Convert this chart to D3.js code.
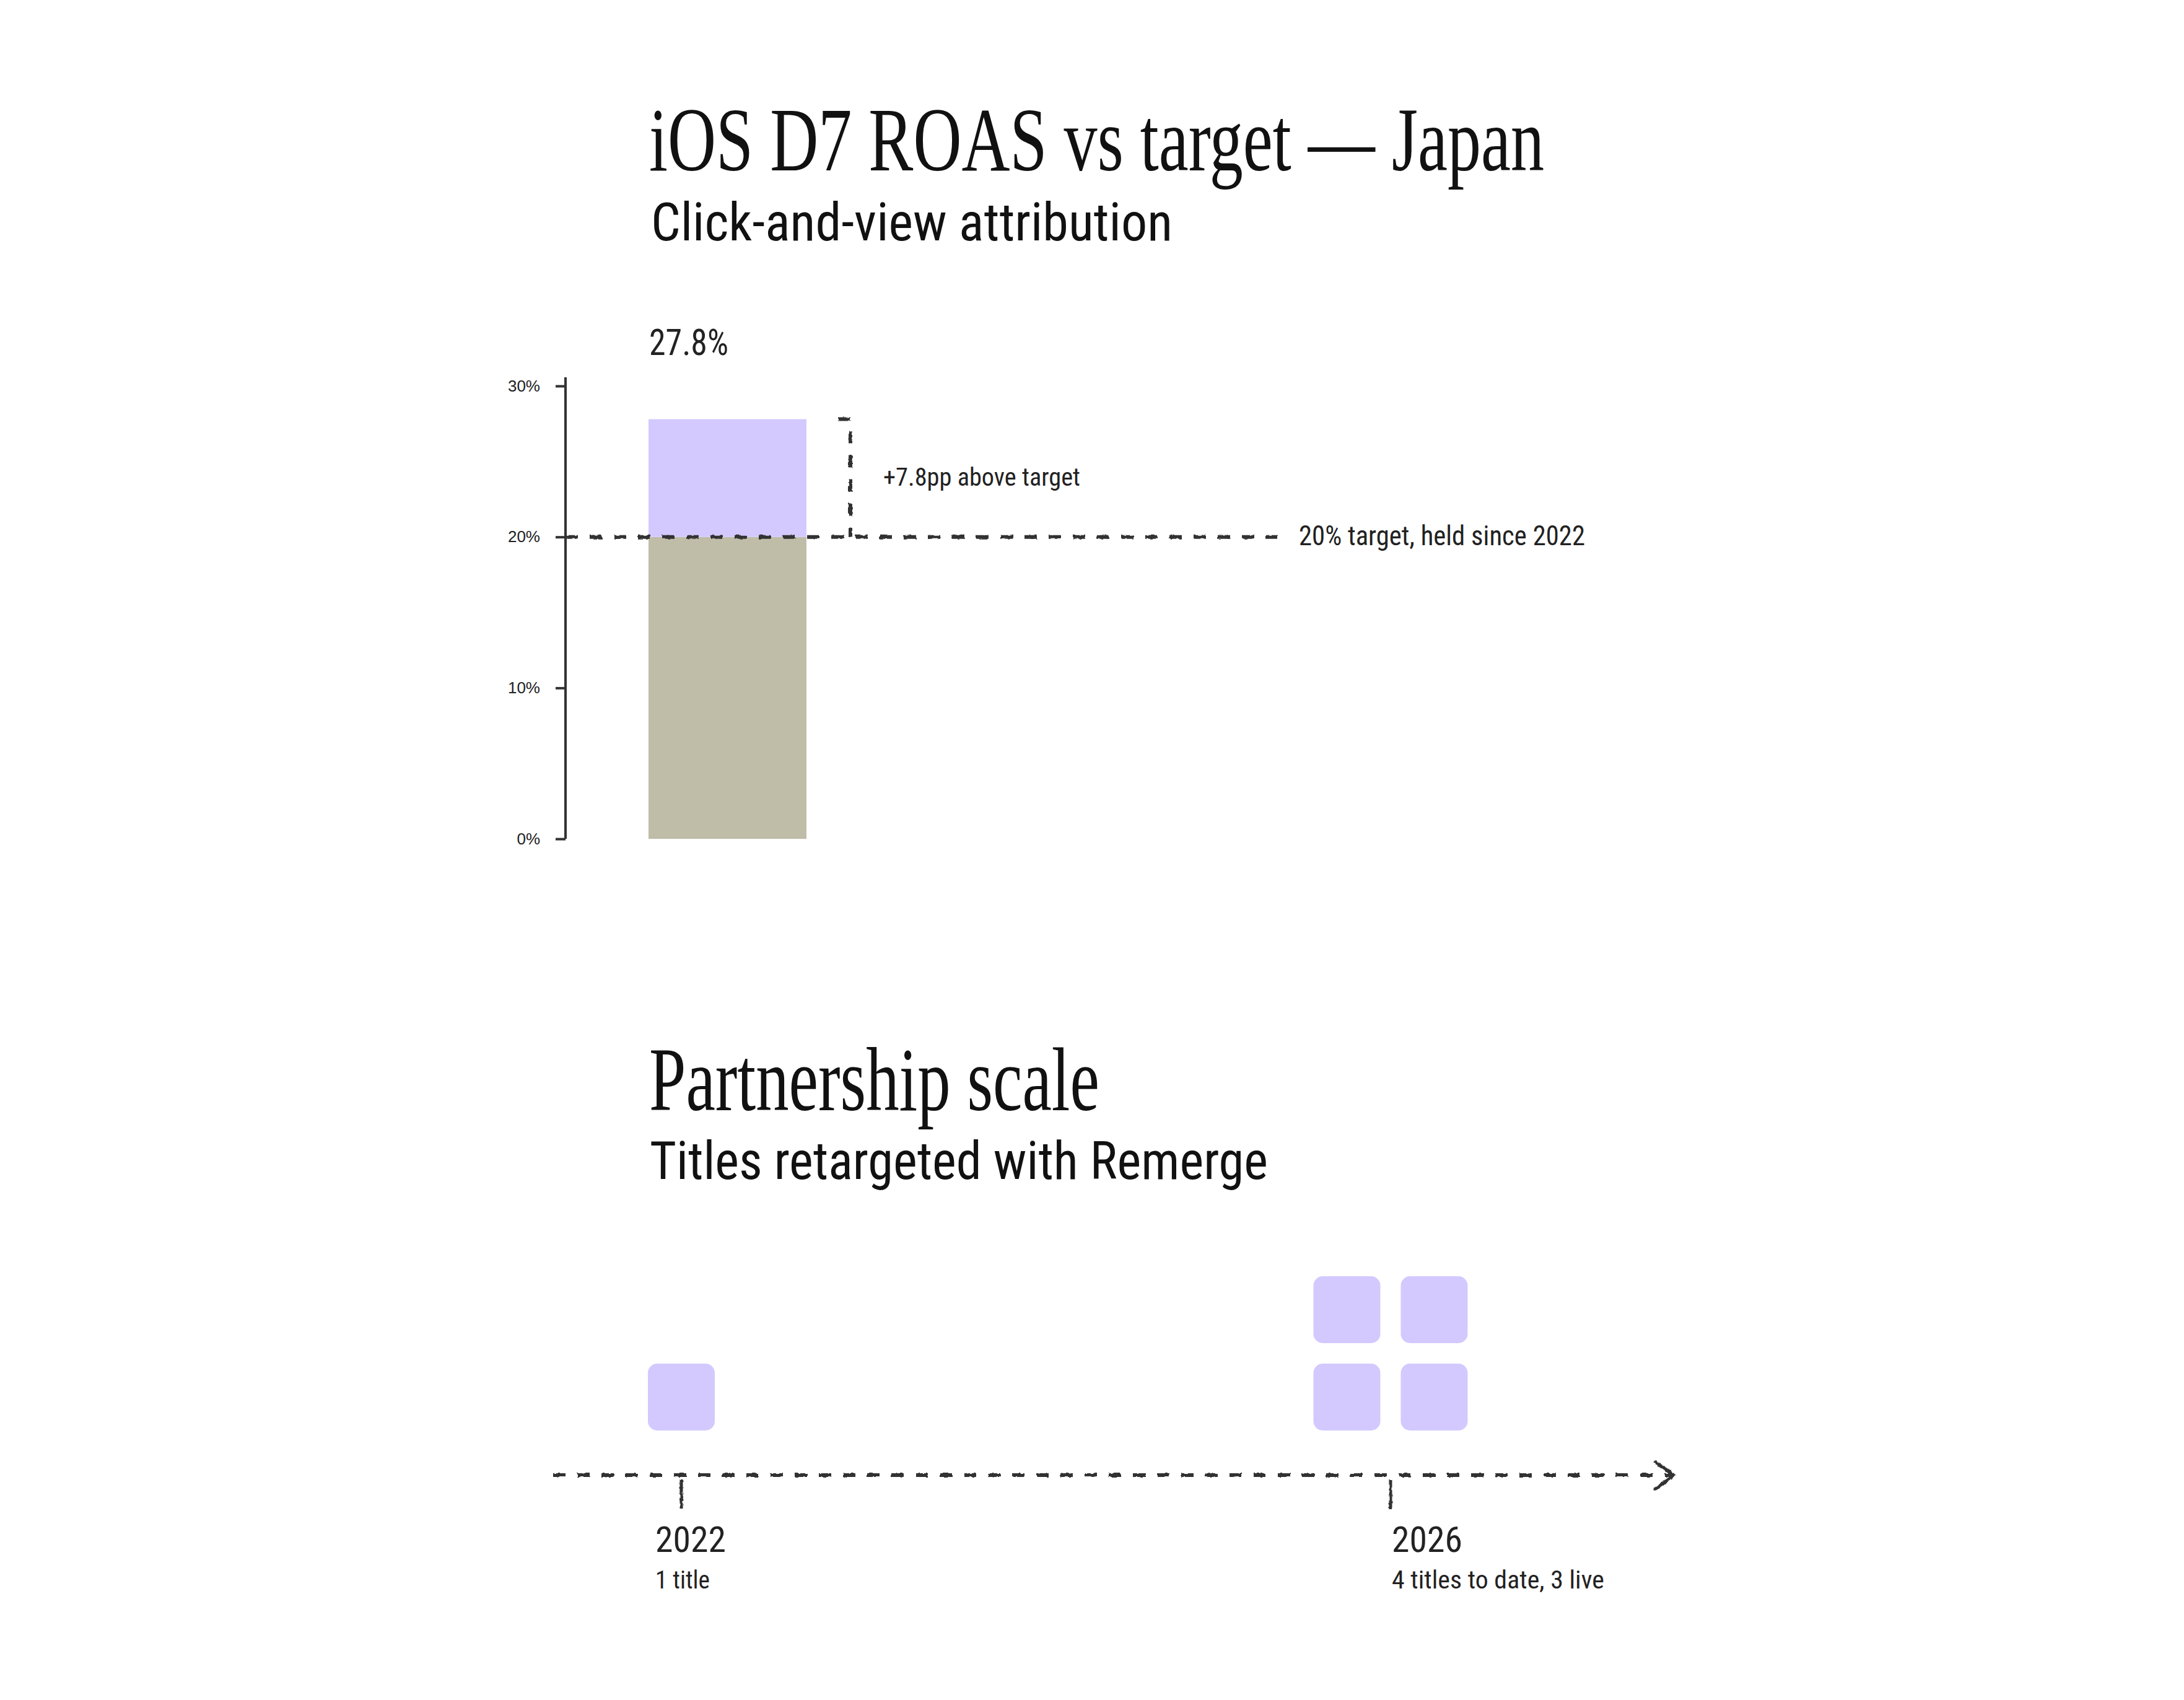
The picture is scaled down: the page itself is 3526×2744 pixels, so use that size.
<!DOCTYPE html>
<html>
<head>
<meta charset="utf-8">
<script src="https://cdn.jsdelivr.net/npm/d3@7"></script>
<style>
  html, body { margin: 0; padding: 0; background: #fff; }
  svg { display: block; }
  .serif { font-family: "Liberation Serif", "DejaVu Serif Condensed", serif; }
  .narrow { font-family: "Liberation Sans Narrow", "Roboto Condensed", "DejaVu Sans Condensed", "Liberation Sans", sans-serif; }
  .tick text { font-family: "Liberation Sans", Arial, sans-serif; }
</style>
</head>
<body>
<div id="chart"></div>
<script>
// 크기
const width = 3526;
const height = 2744;
const left = 1048;

// 데이터 - ROAS
const categories = ['Japan'];
const roasValues = [27.8];
const targetValues = [20];
const yTicks = [0, 10, 20, 30];

// 데이터 - 타임라인
const years = [2022, 2026];
const titleCounts = [1, 4];
const yearNotes = ['1 title', '4 titles to date, 3 live'];

const ink = '#333';
const lavender = '#d3c9fe';
const olive = '#bfbca8';

const svg = d3.select('#chart')
    .append('svg')
    .attr('width', width)
    .attr('height', height);

// 손그림 느낌 필터 (선의 bbox가 0이 될 수 있어 userSpaceOnUse 사용)
const defs = svg.append('defs');
const rough = defs.append('filter')
    .attr('id', 'rough')
    .attr('filterUnits', 'userSpaceOnUse')
    .attr('x', 0).attr('y', 0)
    .attr('width', width).attr('height', height);
rough.append('feTurbulence')
    .attr('type', 'fractalNoise')
    .attr('baseFrequency', 0.15)
    .attr('numOctaves', 2)
    .attr('seed', 3)
    .attr('result', 'noise');
rough.append('feDisplacementMap')
    .attr('in', 'SourceGraphic')
    .attr('in2', 'noise')
    .attr('scale', 4)
    .attr('xChannelSelector', 'R')
    .attr('yChannelSelector', 'G');

// 텍스트 헬퍼
function label(g, txt, x, y, size, cls, len, fill) {
    const t = g.append('text')
        .attr('class', cls)
        .attr('x', x)
        .attr('y', y)
        .attr('font-size', size)
        .attr('fill', fill || '#111')
        .text(txt);
    if (len) t.attr('textLength', len).attr('lengthAdjust', 'spacingAndGlyphs');
    return t;
}

// ---------- 상단: ROAS 막대 ----------
label(svg, 'iOS D7 ROAS vs target \u2014 Japan', left, 275, 146, 'serif', 1445);
label(svg, 'Click-and-view attribution', 1051, 388, 86, 'narrow', 842);

const y = d3.scaleLinear().domain([0, 30]).range([1354, 623]);
const xBar = d3.scaleBand().domain(categories).range([1047, 1302]);
const axisX = 913;

const axis = svg.append('g')
    .attr('transform', `translate(${axisX},0)`)
    .call(d3.axisLeft(y)
        .tickValues(yTicks)
        .tickFormat(d => d + '%')
        .tickSize(16)
        .tickSizeOuter(0)
        .tickPadding(25));
axis.select('.domain')
    .attr('d', `M0,${y(0)}V${y(30) - 14}`)
    .attr('stroke', ink)
    .attr('stroke-width', 4);
axis.selectAll('.tick line').attr('stroke', ink).attr('stroke-width', 4);
axis.selectAll('.tick text')
    .attr('font-size', 26)
    .attr('fill', '#222');

const barData = categories.map((c, i) => ({ cat: c, value: roasValues[i], target: targetValues[i] }));

// 목표까지 부분
svg.selectAll('.bar-base')
    .data(barData)
    .enter()
    .append('rect')
    .attr('class', 'bar-base')
    .attr('x', d => xBar(d.cat))
    .attr('width', xBar.bandwidth())
    .attr('y', d => y(Math.min(d.value, d.target)))
    .attr('height', d => y(0) - y(Math.min(d.value, d.target)))
    .attr('fill', olive);

// 목표 초과 부분
svg.selectAll('.bar-excess')
    .data(barData)
    .enter()
    .append('rect')
    .attr('class', 'bar-excess')
    .attr('x', d => xBar(d.cat))
    .attr('width', xBar.bandwidth())
    .attr('y', d => y(d.value))
    .attr('height', d => y(d.target) - y(d.value))
    .attr('fill', lavender);

// 값 라벨
barData.forEach(d => {
    label(svg, d.value.toFixed(1) + '%', xBar(d.cat) + 1, y(d.value) - 104, 60, 'narrow', 128, '#222');
});

// 목표선
barData.forEach(d => {
    svg.append('path')
        .attr('d', `M${axisX},${y(d.target)}H2062`)
        .attr('fill', 'none')
        .attr('stroke', ink)
        .attr('stroke-width', 6)
        .attr('stroke-dasharray', '20 19')
        .attr('filter', 'url(#rough)');
    label(svg, `${d.target}% target, held since 2022`, 2097, y(d.target) + 13, 45, 'narrow', 462, '#222');

    // 초과분 괄호
    const bx = xBar(d.cat) + xBar.bandwidth() + 71;
    svg.append('path')
        .attr('d', `M${bx - 20},${y(d.value)}H${bx}V${y(d.target)}`)
        .attr('fill', 'none')
        .attr('stroke', ink)
        .attr('stroke-width', 6)
        .attr('stroke-dasharray', '20 19')
        .attr('filter', 'url(#rough)');
    const diff = (d.value - d.target).toFixed(1);
    label(svg, `+${diff}pp above target`, bx + 53, (y(d.value) + y(d.target)) / 2 + 12, 40, 'narrow', 318, '#222');
});

// ---------- 하단: 파트너십 타임라인 ----------
label(svg, 'Partnership scale', left, 1792, 146, 'serif', 727);
label(svg, 'Titles retargeted with Remerge', 1049, 1903, 86, 'narrow', 998);

const x = d3.scaleLinear().domain([2022, 2026]).range([1100, 2245]);
const lineY = 2381;
const lineStart = x(2022) - 207;
const lineEnd = x(2026) + 458;

svg.append('path')
    .attr('d', `M${lineStart},${lineY}H${lineEnd - 4}`)
    .attr('fill', 'none')
    .attr('stroke', ink)
    .attr('stroke-width', 6)
    .attr('stroke-dasharray', '20 19')
    .attr('filter', 'url(#rough)');

svg.append('path')
    .attr('d', `M${lineEnd - 30},${lineY - 21}L${lineEnd},${lineY}L${lineEnd - 30},${lineY + 22}`)
    .attr('fill', 'none')
    .attr('stroke', ink)
    .attr('stroke-width', 5)
    .attr('stroke-linecap', 'round')
    .attr('stroke-linejoin', 'round')
    .attr('filter', 'url(#rough)');

const timeData = years.map((yr, i) => ({ year: yr, count: titleCounts[i], note: yearNotes[i], i }));

// 눈금
svg.selectAll('.year-tick')
    .data(timeData)
    .enter()
    .append('line')
    .attr('class', 'year-tick')
    .attr('x1', d => x(d.year))
    .attr('x2', d => x(d.year))
    .attr('y1', lineY + 7)
    .attr('y2', lineY + 54)
    .attr('stroke', ink)
    .attr('stroke-width', 5)
    .attr('filter', 'url(#rough)');

// 타이틀 사각형 (아래에서부터 격자로 쌓기)
const cell = 108;
const gap = 33;
const baseBottom = lineY - 72;

timeData.forEach(d => {
    const cols = Math.ceil(Math.sqrt(d.count));
    const groupW = cols * cell + (cols - 1) * gap;
    const squares = d3.range(d.count).map(k => ({
        col: k % cols,
        row: Math.floor(k / cols)
    }));
    svg.selectAll(null)
        .data(squares)
        .enter()
        .append('rect')
        .attr('x', s => x(d.year) - groupW / 2 + s.col * (cell + gap))
        .attr('y', s => baseBottom - cell - s.row * (cell + gap))
        .attr('width', cell)
        .attr('height', cell)
        .attr('rx', 15)
        .attr('fill', lavender);

    const lx = d.i === 0 ? left + 10 : x(d.year) + 2;
    label(svg, String(d.year), lx, 2505, 57, 'narrow', 114, '#222');
    label(svg, d.note, lx, 2564, 41, 'narrow', d.i === 0 ? 88 : 343, '#222');
});
</script>
</body>
</html>
